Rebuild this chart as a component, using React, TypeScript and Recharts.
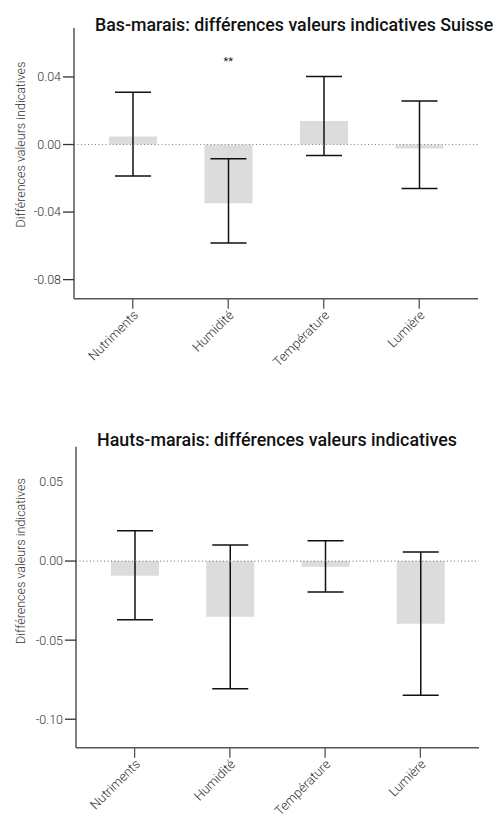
import React from 'react';
import { BarChart, Bar, XAxis, YAxis, ErrorBar, ReferenceLine, ReferenceDot } from 'recharts';

const categories = ['Nutriments', 'Humidité', 'Température', 'Lumière'];

// Bas-marais
const basMean = [0.0047, -0.0348, 0.014, -0.0024];
const basLow = [-0.0186, -0.0583, -0.0065, -0.0261];
const basHigh = [0.031, -0.0085, 0.0403, 0.0257];
const basSig = ['', '**', '', ''];
const basTicks = [-0.08, -0.04, 0, 0.04];

// Hauts-marais
const hautMean = [-0.0093, -0.0352, -0.0036, -0.0397];
const hautLow = [-0.0371, -0.0808, -0.0196, -0.0848];
const hautHigh = [0.0192, 0.0101, 0.0128, 0.0057];
const hautTicks = [-0.1, -0.05, 0, 0.05];

const FONT = 'Roboto, sans-serif';
const AXIS = '#555';

const build = (mean: number[], low: number[], high: number[]) =>
  categories.map((c, i) => ({
    name: c,
    value: mean[i],
    err: [mean[i] - low[i], high[i] - mean[i]],
  }));

const XTick = (props: any) => {
  const { x, y, payload } = props;
  return (
    <g transform={`translate(${x + 3},${y + 2})`}>
      <text
        textAnchor="end"
        transform="rotate(-45)"
        dy="0.35em"
        fontFamily={FONT}
        fontWeight={300}
        fontSize={13}
        fill="#333"
      >
        {payload.value}
      </text>
    </g>
  );
};

const YTick = (props: any) => {
  const { x, y, payload, noLine } = props;
  const showLine = !(noLine || []).includes(payload.value);
  return (
    <g>
      {showLine && <line x1={x + 2} x2={x + 13} y1={y} y2={y} stroke="#333" strokeWidth={1.3} />}
      <text x={x} y={y} dy="0.35em" textAnchor="end" fontFamily={FONT} fontWeight={300} fontSize={12.5} fill="#333">
        {payload.value.toFixed(2)}
      </text>
    </g>
  );
};

const YLabel = (props: any) => {
  const vb = props.viewBox || {};
  return (
    <text
      transform={`translate(25,${vb.y}) rotate(-90)`}
      textAnchor="middle"
      fontFamily={FONT}
      fontWeight={300}
      fontSize={12.5}
      fill="#333"
    >
      Différences valeurs indicatives
    </text>
  );
};

type PanelProps = {
  title: string;
  titleX: number;
  titleY: number;
  titleScale: number;
  data: any[];
  domain: [number, number];
  ticks: number[];
  margin: { top: number; left: number; right: number; bottom: number };
  noLine?: number[];
  sig?: string[];
  sigY?: number;
};

const Panel = ({ title, titleX, titleY, titleScale, data, domain, ticks, margin, noLine, sig, sigY }: PanelProps) => (
  <div style={{ position: 'relative', width: 497, height: 410 }}>
    <BarChart width={497} height={410} data={data} margin={margin}>
      <XAxis
        dataKey="name"
        padding={{ left: 11, right: 11 }}
        stroke={AXIS}
        strokeWidth={1.5}
        tickSize={10}
        tickLine={{ stroke: AXIS, strokeWidth: 1.3 }}
        tick={<XTick />}
        height={60}
        interval={0}
      />
      <YAxis
        type="number"
        domain={domain}
        allowDataOverflow
        ticks={ticks}
        width={60}
        stroke={AXIS}
        strokeWidth={1.5}
        tickSize={11}
        tickLine={false}
        tick={(p: any) => <YTick {...p} noLine={noLine} />}
      />
      <Bar dataKey="value" fill="#dcdcdc" barSize={48} isAnimationActive={false}>
        <ErrorBar dataKey="err" width={18} stroke="#111" strokeWidth={1.5} direction="y" />
      </Bar>
      <ReferenceLine y={0} stroke="#888" strokeDasharray="1 2.5" strokeWidth={1.2} label={<YLabel />} />
      {sig &&
        sig.map((s, i) =>
          s ? (
            <ReferenceDot
              key={i}
              x={categories[i]}
              y={sigY}
              r={1}
              fill="none"
              stroke="none"
              label={{ value: s, position: 'center', fontSize: 11, fill: '#222', fontFamily: FONT }}
            />
          ) : null
        )}
    </BarChart>
    <svg width={497} height={60} style={{ position: 'absolute', left: 0, top: 0, pointerEvents: 'none' }}>
      <g transform={`translate(${titleX},${titleY}) scale(${titleScale},1)`}>
        <text x={0} y={0} fontFamily={FONT} fontWeight={500} fontSize={19} fill="#111">
          {title}
        </text>
      </g>
    </svg>
  </div>
);

export default function App() {
  const basData = build(basMean, basLow, basHigh);
  const hautData = build(hautMean, hautLow, hautHigh);
  return (
    <div style={{ position: 'absolute', left: 0, top: 0, width: 497, height: 820, background: '#fff' }}>
      <Panel
        title="Bas-marais: différences valeurs indicatives Suisse"
        titleX={95}
        titleY={31}
        titleScale={0.935}
        data={basData}
        domain={[-0.0913, 0.069]}
        ticks={basTicks}
        margin={{ top: 28, left: 14, right: 19, bottom: 51.3 }}
        sig={basSig}
        sigY={0.0496}
      />
      <Panel
        title="Hauts-marais: différences valeurs indicatives"
        titleX={97}
        titleY={35.7}
        titleScale={0.94}
        data={hautData}
        domain={[-0.118, 0.0723]}
        ticks={hautTicks}
        margin={{ top: 36.7, left: 16, right: 18, bottom: 12.3 }}
        noLine={[0.05]}
      />
    </div>
  );
}
